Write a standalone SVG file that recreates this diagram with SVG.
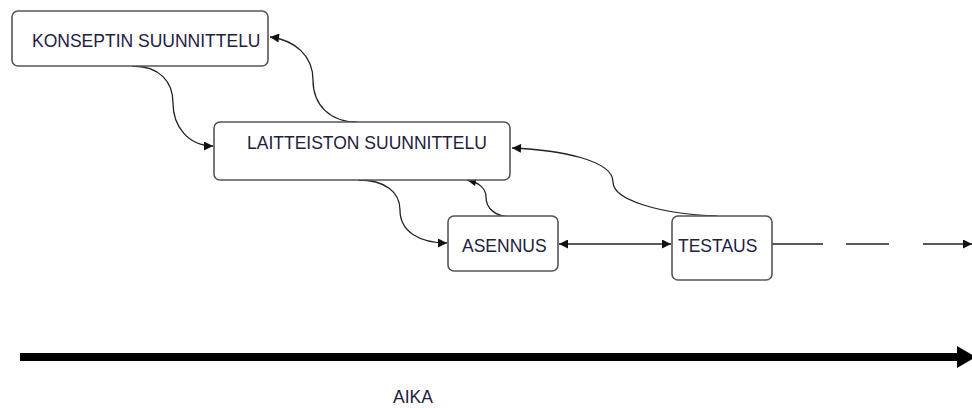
<svg xmlns="http://www.w3.org/2000/svg" width="972" height="408" viewBox="0 0 972 408">
<style>
.box{fill:#fff;stroke:#555;stroke-width:1.6}
.lbl{font-family:"Liberation Sans",Arial,sans-serif;font-size:17.5px;fill:#1e2040}
.con{fill:none;stroke:#222;stroke-width:1.3}
</style>
<defs>
<marker id="ah" viewBox="0 0 10 10" refX="10" refY="5" markerWidth="10" markerHeight="9" markerUnits="userSpaceOnUse" orient="auto-start-reverse">
<path d="M0,0 L10,5 L0,10 Z" fill="#111"/>
</marker>
</defs>
<rect width="972" height="408" fill="#fff"/>
<g id="connectors">
<path class="con" d="M132,66 C160,66 173,82 173,103 C173,126 188,146 213,146" marker-end="url(#ah)"/>
<path class="con" d="M357,122 C330,122 313,105 313,80 C313,56 295,40 270,37" marker-end="url(#ah)"/>
<path class="con" d="M358,180 C385,180 400,192 400,210 C400,232 420,243 447,243" marker-end="url(#ah)"/>
<path class="con" d="M512,217 C495,217 486,208 486,197 C486,188 478,182 467,180" marker-end="url(#ah)"/>
<path class="con" d="M717,216 C660,214 613,200 613,182 C613,160 560,150 512,148" marker-end="url(#ah)"/>
<path class="con" d="M559,244 L671,244" marker-start="url(#ah)" marker-end="url(#ah)"/>
<path class="con" d="M772,244 L972,244" stroke-dasharray="51 23 43 34 60" marker-end="url(#ah)"/>
<line x1="20" y1="357" x2="958" y2="357" stroke="#000" stroke-width="8"/>
<polygon points="957,346 957,368 976,357" fill="#000"/>
</g>
<g id="konseptin">
<rect class="box" x="12" y="11" width="256" height="55" rx="6"/>
<text class="lbl" x="32" y="47">KONSEPTIN SUUNNITTELU</text>
</g>
<g id="laitteiston">
<rect class="box" x="214" y="122" width="296" height="58" rx="6"/>
<text class="lbl" x="247" y="149">LAITTEISTON SUUNNITTELU</text>
</g>
<g id="asennus">
<rect class="box" x="448" y="216" width="110" height="55" rx="6"/>
<text class="lbl" x="462" y="252">ASENNUS</text>
</g>
<g id="testaus">
<rect class="box" x="672" y="216" width="100" height="64" rx="6"/>
<text class="lbl" x="678" y="252">TESTAUS</text>
</g>
<g id="aika">
<text class="lbl" x="393" y="403">AIKA</text>
</g>
</svg>
